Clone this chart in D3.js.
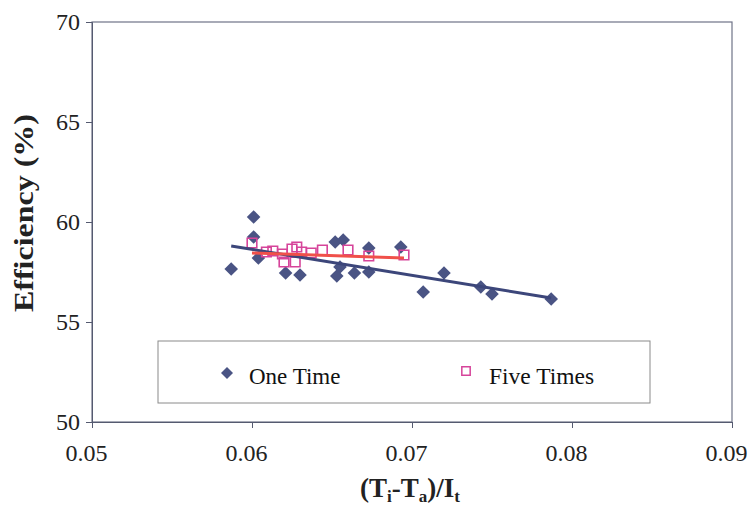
<!DOCTYPE html>
<html><head><meta charset="utf-8">
<script src="https://cdn.jsdelivr.net/npm/d3@7"></script>
<style>body{margin:0;background:#fff}svg{display:block}</style>
</head><body>
<svg id="c" width="752" height="509"></svg>
<script>
// ---- data ----
const oneTimeX = [0.0587, 0.0601, 0.0601, 0.0604, 0.0621, 0.0630, 0.0652, 0.0657, 0.0653, 0.0655, 0.0664, 0.0673, 0.0673, 0.0693, 0.0707, 0.0720, 0.0743, 0.0750, 0.0787];
const oneTimeY = [57.65, 60.25, 59.25, 58.2, 57.45, 57.35, 59.0, 59.1, 57.3, 57.75, 57.45, 57.5, 58.7, 58.75, 56.5, 57.45, 56.75, 56.4, 56.15];
const fiveTimesX = [0.0600, 0.0609, 0.0613, 0.0619, 0.0620, 0.0625, 0.0628, 0.0627, 0.0631, 0.0637, 0.0644, 0.0660, 0.0673, 0.0695];
const fiveTimesY = [58.95, 58.5, 58.55, 58.4, 58.0, 58.65, 58.75, 58.0, 58.5, 58.45, 58.6, 58.6, 58.3, 58.35];
const oneTrendX = [0.0587, 0.0787];
const oneTrendY = [58.8, 56.2];
const fiveTrendX = [0.0600, 0.0695];
const fiveTrendY = [58.45, 58.2];
const xTicks = [0.05, 0.06, 0.07, 0.08, 0.09];
const yTicks = [50, 55, 60, 65, 70];
const seriesNames = ["One Time", "Five Times"];

// ---- drawing ----
const svg = d3.select("#c");
const x = d3.scaleLinear().domain([0.05, 0.09]).range([92, 732]);
const y = d3.scaleLinear().domain([50, 70]).range([422, 22]);
const serif = "'Liberation Serif','Times New Roman',serif";
const blue = "#4a5484", pink = "#d6449a", red = "#f0504a";

svg.append("rect").attr("x", 92).attr("y", 22).attr("width", 640).attr("height", 400)
  .attr("fill", "none").attr("stroke", "#6f7388").attr("stroke-width", 1.2);

const yAx = svg.append("g").attr("transform", "translate(92,0)")
  .call(d3.axisLeft(y).tickValues(yTicks).tickSize(6).tickFormat(d3.format("d")));
yAx.select(".domain").attr("stroke", "#555a70");
yAx.selectAll(".tick line").attr("stroke", "#555a70");
yAx.selectAll(".tick text").attr("font-family", serif).attr("font-size", 24).attr("fill", "#222").attr("x", -12);

const xAx = svg.append("g").attr("transform", "translate(0,422)")
  .call(d3.axisBottom(x).tickValues(xTicks).tickSize(6).tickFormat(d3.format(".2f")));
xAx.select(".domain").attr("stroke", "#555a70");
xAx.selectAll(".tick line").attr("stroke", "#555a70");
xAx.selectAll(".tick text").attr("font-family", serif).attr("font-size", 24).attr("fill", "#222")
  .attr("dx", -6).attr("y", 22);

const oneData = oneTimeX.map((v, i) => [v, oneTimeY[i]]);
const fiveData = fiveTimesX.map((v, i) => [v, fiveTimesY[i]]);
const diamond = d3.symbol().type(d3.symbolSquare).size(92);
const square = d3.symbol().type(d3.symbolSquare).size(92);

svg.append("g").selectAll("path").data(oneData).join("path")
  .attr("d", diamond).attr("fill", blue)
  .attr("transform", d => `translate(${x(d[0])},${y(d[1])}) rotate(45)`);
svg.append("g").selectAll("path").data(fiveData).join("path")
  .attr("d", square).attr("fill", "none").attr("stroke", pink).attr("stroke-width", 1.6)
  .attr("transform", d => `translate(${x(d[0])},${y(d[1])})`);

const line = d3.line().x(d => x(d[0])).y(d => y(d[1]));
svg.append("path").datum(oneTrendX.map((v, i) => [v, oneTrendY[i]]))
  .attr("d", line).attr("stroke", "#3c467a").attr("stroke-width", 3).attr("fill", "none");
svg.append("path").datum(fiveTrendX.map((v, i) => [v, fiveTrendY[i]]))
  .attr("d", line).attr("stroke", red).attr("stroke-width", 3).attr("fill", "none");

// legend
const lg = svg.append("g");
lg.append("rect").attr("x", 158).attr("y", 341).attr("width", 492).attr("height", 62)
  .attr("fill", "#fff").attr("stroke", "#8a8a8a").attr("stroke-width", 1);
lg.append("path").attr("d", d3.symbol().type(d3.symbolSquare).size(72)).attr("fill", blue)
  .attr("transform", "translate(227,373) rotate(45)");
lg.append("text").attr("x", 249).attr("y", 384).text(seriesNames[0])
  .attr("font-family", serif).attr("font-size", 23).attr("fill", "#111");
lg.append("path").attr("d", d3.symbol().type(d3.symbolSquare).size(70)).attr("fill", "none")
  .attr("stroke", pink).attr("stroke-width", 1.5).attr("transform", "translate(466,371)");
lg.append("text").attr("x", 489).attr("y", 384).text(seriesNames[1])
  .attr("font-family", serif).attr("font-size", 23.5).attr("fill", "#111");

// axis titles
svg.append("text").attr("transform", "translate(33,213) rotate(-90)").attr("text-anchor", "middle")
  .attr("font-family", serif).attr("font-weight", "bold").attr("font-size", 28).attr("fill", "#222")
  .attr("textLength", 198).attr("lengthAdjust", "spacingAndGlyphs")
  .text("Efficiency (%)");
const xt = svg.append("text").attr("x", 410).attr("y", 497).attr("text-anchor", "middle")
  .attr("font-family", serif).attr("font-weight", "bold").attr("font-size", 27).attr("fill", "#222");
xt.append("tspan").text("(T");
xt.append("tspan").text("i").attr("font-size", 17).attr("dy", 5);
xt.append("tspan").text("-T").attr("dy", -5);
xt.append("tspan").text("a").attr("font-size", 17).attr("dy", 5);
xt.append("tspan").text(")/I").attr("dy", -5);
xt.append("tspan").text("t").attr("font-size", 17).attr("dy", 5);
</script>
</body></html>
